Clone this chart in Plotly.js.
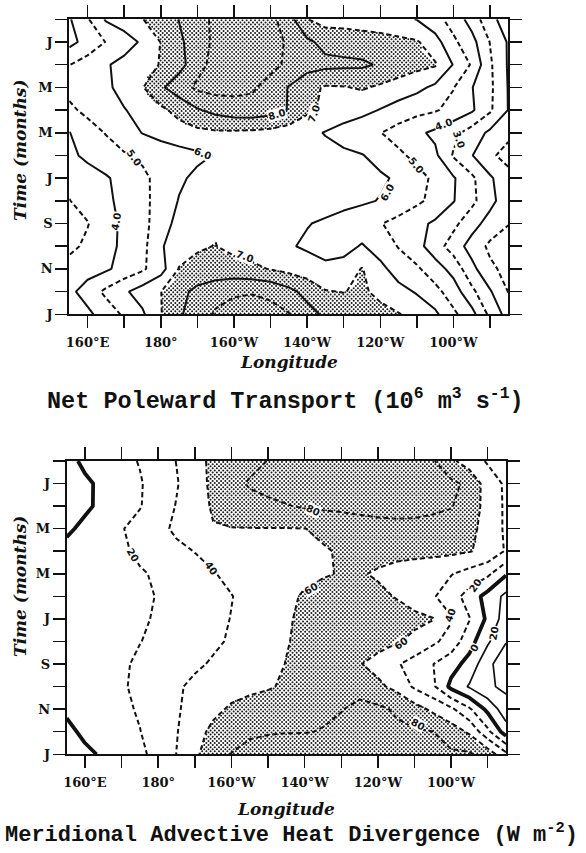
<!DOCTYPE html>
<html><head><meta charset="utf-8">
<script src="https://cdn.plot.ly/plotly-3.0.1.min.js"></script>
<style>html,body{margin:0;padding:0;background:#fff}#chart{width:586px;height:853px}</style>
</head><body><div id="chart"></div>
<script>
// Longitude (degrees east) and time (month index: 0 = Dec, 1 = Jan ... 13 = Jan)
const lon = [155,160,165,170,175,180,185,190,195,200,205,210,215,220,225,230,235,240,245,250,255,260,265,270,275];
const months = [0,1,2,3,4,5,6,7,8,9,10,11,12,13];
const monthTicks = [1,3,5,7,9,11,13];
const monthLabels = ['J','M','M','J','S','N','J'];
const monthMinor = [0,2,4,6,8,10,12];
const lonTicks = [160,180,200,220,240,260];
const lonLabels = ['160°E','180°','160°W','140°W','120°W','100°W'];
const lonMinor = [170,190,210,230,250,270];

// Net poleward transport (10^6 m^3 s^-1), rows = months, cols = lon
const transport = [
 [3.9,4.9,6.1,6.5,6.97,7.5,8.03,8.65,9.2,9.5,9.5,9.3,8.4,7.03,6.6,6.6,6.5,6.4,6.2,5.97,5.35,4.6,3.6,2.3,1.5],
 [3.7,4.35,5.03,5.55,6.15,7.03,7.8,8.55,9.2,9.6,9.6,9.4,8.85,8.2,7.7,7.6,7.5,7.4,7.25,7.1,6.4,5.2,4.35,2.97,1.9],
 [4.97,5.45,5.9,6.3,6.65,7.05,7.65,8.6,9.4,9.7,9.6,9.3,8.8,8.4,8.25,8.2,8.15,7.9,7.6,7.3,7.1,5.95,4.9,3.15,1.9],
 [5.3,5.55,5.8,6.35,6.95,7.85,8.55,9.2,9.35,9.3,9.15,8.6,7.95,7.3,6.9,6.95,7.1,6.85,6.55,6.25,5.8,5.05,4.05,3.2,1.95],
 [4.8,5.25,5.6,5.95,6.35,6.8,7.3,7.9,8.3,8.55,8.6,8.4,7.95,7.2,6.8,6.55,6.3,5.95,5.6,5.3,5.1,4.65,4.15,3.15,1.97],
 [3.97,4.55,5.05,5.55,6.03,6.35,6.6,6.75,6.85,6.85,6.8,6.7,6.5,6.25,5.95,5.6,5.3,5.03,4.6,4.2,3.8,3.3,2.55,1.8,1.2],
 [3.8,4.2,4.55,4.9,5.17,5.39,5.6,5.82,6.05,6.3,6.45,6.5,6.5,6.4,6.3,6.2,6.05,5.65,5.2,4.73,4.2,2.9,2.05,1.15,0.7],
 [3.3,3.6,3.9,4.32,4.8,5.3,5.85,6.2,6.4,6.55,6.65,6.7,6.7,6.65,6.55,6.45,6.3,6.15,5.85,5.35,4.8,4.1,3.2,2.15,1.3],
 [2.97,3.41,3.8,4.28,4.75,5.36,6.05,6.4,6.6,6.7,6.75,6.75,6.7,6.6,6.45,6.3,6.15,5.95,5.6,5.2,4.7,4.05,3.25,2.3,1.4],
 [2.6,2.95,3.6,4.22,4.7,5.5,6.35,6.8,6.9,6.8,6.6,6.4,6.25,6.05,5.85,5.6,5.35,5.05,4.7,4.25,3.85,3.25,2.4,1.6,1.05],
 [2.75,3.2,3.7,4.2,4.7,5.9,6.5,6.92,7.02,6.75,6.55,6.4,6.1,5.85,5.5,5.6,6.1,5.5,4.95,4.35,3.45,2.55,1.6,0.8,0.4],
 [3.4,3.6,3.85,4.35,4.85,5.6,7.05,7.2,7.3,7.35,7.2,6.95,6.7,6.5,6.3,6.45,7.05,6.3,5.5,5.15,4.45,3.65,2.3,1.2,0.7],
 [3.75,4.44,5.21,5.85,6.43,6.98,7.65,8.3,8.7,8.9,8.95,8.8,8.3,7.65,7.05,6.97,7.15,6.75,6.35,5.9,5.3,4.5,3.25,2.1,0.97],
 [3.3,3.78,4.47,5.14,5.85,6.95,7.85,8.55,9.1,9.3,9.35,9.3,9.05,8.4,7.8,7.6,7.45,7.3,7.05,6.7,6.2,5.2,4.35,2.75,1.6]
];

// Meridional advective heat divergence (W m^-2)
const heatDiv = [
 [-8,5,11,15,21,30,40.5,56,62.5,68,74,80.5,82,83,84,84,84,84,84,83.5,82,64,50,38,34],
 [-12,-4,5,12,18.5,28,38.5,52,64,74,82,86,88,89,90,90,90,89,88,87,86,84,76,50,37],
 [-12,-3,4,11,19,29,41,52,62,68,73,76,79,82,84,85,85,85,85,84.5,83,81,72,52,37],
 [-3,4,10,19,26,34,44,52,59,59.5,59.5,59.5,59.5,59.8,62,66,72,75,76,76,75,72,66,52,37],
 [5,10,14,17.5,23,29,35,40.5,45,49,52,54,56,57.5,59,61,64,66,67,67,66,64,61,55,38],
 [8,11,14,16,18.5,22,28,33,39,44,48,51,54,56,58.5,61,61.5,58,52,47,44,41,33,24,2],
 [10,12,14,16,18,20.5,25,30,34.5,39.5,45,50,56,62,66,68,67,64,59,51,42,30,11,-7,-25],
 [9,11,13,15,17.5,22,26,31,35.5,40.5,46,52,58,63.5,67,69,70,69.5,68,65,61,42,21,-4,-30],
 [7,9,12,15,19.5,24.5,28.5,32.5,37,42,47,53,59,64,67,68,67.5,66,62,55,44,32,8,-17,-39],
 [5,8,11,17,23.5,28,32.5,37,42,46,50.5,55,60.5,64,65,64,61,54,42.5,32,20.5,8,-7,-35,-52],
 [3,7,11,18.5,23,29,37.5,44,48,52,55,58,63,68,72,75,76,64,55,37,24,-5,-22,-37,-44],
 [4,8,12,16,22,28,38.5,45,55,63,68,71,74,76,78,79.5,83,84,77.5,68,56,44,23,-5,-32],
 [-6,5,10,14,19.5,29,39,52,65,73,78,79,79.5,79.5,80.5,83,85,85,84,82,80.3,70,57,25,-10],
 [-12,-5,3,11,17.5,24,40.3,57,69,80.5,84,86,87,88,88,88,88,88,87,86,85,83,82.5,72,45]
];

const topLabels = [
 {x:172.6,y:6.1,t:'5.0',a:55},{x:191.5,y:5.9,t:'6.0',a:20},{x:167.8,y:8.9,t:'4.0',a:-80},
 {x:211.7,y:4.2,t:'8.0',a:-15},{x:221.9,y:4.15,t:'7.0',a:-70},{x:203,y:10.45,t:'7.0',a:20},
 {x:242,y:7.65,t:'6.0',a:-60},{x:249.8,y:6.45,t:'5.0',a:50},{x:257.3,y:4.65,t:'4.0',a:-20},
 {x:261.5,y:5.3,t:'3.0',a:70}
];
const botLabels = [
 {x:173.2,y:4.17,t:'20',a:60},{x:194.5,y:4.77,t:'40',a:55},{x:222.4,y:2.2,t:'80',a:25},
 {x:221.8,y:5.65,t:'60',a:-30},{x:246.3,y:8.08,t:'60',a:-35},{x:259.7,y:6.83,t:'40',a:-70},
 {x:266.6,y:5.5,t:'20',a:-55},{x:266.3,y:8.3,t:'0',a:-60},{x:271.7,y:7.64,t:'20',a:-80},
 {x:251,y:11.67,t:'80',a:30}
];

const INK = '#111';
const DASH = '5px,3px';

function bilinear(z, x, y) {
  const dxg = lon[1]-lon[0], dyg = months[1]-months[0];
  let i = Math.floor((x-lon[0])/dxg); i = Math.max(0, Math.min(i, lon.length-2));
  let j = Math.floor((y-months[0])/dyg); j = Math.max(0, Math.min(j, months.length-2));
  const tx = (x-lon[i])/dxg, ty = (y-months[j])/dyg;
  return (1-tx)*(1-ty)*z[j][i] + tx*(1-ty)*z[j][i+1] + (1-tx)*ty*z[j+1][i] + tx*ty*z[j+1][i+1];
}

// dot texture for the shaded (above-threshold) region
function stipple(z, thr, xa, ya) {
  const xs = [], ys = [];
  const dx = 4.2/3.66, dy = 2.1/22.6;
  let r = 0;
  for (let m = dy/2; m < 13; m += dy, r++) {
    const off = (r % 2) ? dx/2 : 0;
    for (let x = lon[0] + dx/4 + off; x < lon[lon.length-1]; x += dx) {
      if (bilinear(z, x, m) > thr) { xs.push(x); ys.push(m); }
    }
  }
  return {type:'scatter', mode:'markers', x:xs, y:ys, xaxis:xa, yaxis:ya,
    marker:{size:2.0, color:'#1a1a1a', line:{width:0}}, hoverinfo:'skip', showlegend:false};
}

function lines(z, xa, ya, start, end, size, width, dash) {
  return {type:'contour', x:lon, y:months, z:z, xaxis:xa, yaxis:ya,
    autocontour:false, contours:{start:start, end:end, size:size, coloring:'none', showlines:true},
    line:{color:INK, width:width, dash:dash, smoothing:0},
    showscale:false, hoverinfo:'skip', showlegend:false};
}

const data = [
  stipple(transport, 7, 'x', 'y'),
  lines(transport, 'x', 'y', 2, 8, 2, 2, 'solid'),
  lines(transport, 'x', 'y', 1, 9, 2, 2, DASH),
  stipple(heatDiv, 60, 'x2', 'y2'),
  lines(heatDiv, 'x2', 'y2', -40, -20, 20, 1.7, 'solid'),
  lines(heatDiv, 'x2', 'y2', 0, 0.5, 1, 3.8, 'solid'),
  lines(heatDiv, 'x2', 'y2', 20, 80, 20, 2, DASH)
];

const tickFont = {family:'DejaVu Serif', size:13, color:INK, weight:'bold'};
const minorStyle = {ticks:'outside', ticklen:12, tickwidth:1.5, tickcolor:INK, showgrid:false};
function xAxis(domain, anchor) {
  return {domain:domain, anchor:anchor, range:[155,275], autorange:false,
    tickmode:'array', tickvals:lonTicks, ticktext:lonLabels,
    minor:Object.assign({tickmode:'array', tickvals:lonMinor}, minorStyle),
    ticks:'outside', ticklen:12, tickwidth:1.5, tickcolor:INK,
    showline:true, linewidth:2, linecolor:INK, mirror:'ticks',
    showgrid:false, zeroline:false, tickfont:tickFont, ticklabelstandoff:3, automargin:false, fixedrange:true};
}
function yAxis(domain, anchor) {
  return {domain:domain, anchor:anchor, range:[13,0], autorange:false,
    tickmode:'array', tickvals:monthTicks, ticktext:monthLabels,
    minor:Object.assign({tickmode:'array', tickvals:monthMinor}, minorStyle),
    ticks:'outside', ticklen:12, tickwidth:1.5, tickcolor:INK,
    showline:true, linewidth:2, linecolor:INK, mirror:'ticks',
    showgrid:false, zeroline:false, tickfont:tickFont, ticklabelstandoff:0, automargin:false, fixedrange:true};
}

const ann = [];
function addLabels(list, xr, yr) {
  list.forEach(l => ann.push({x:l.x, y:l.y, xref:xr, yref:yr, text:'<b>'+l.t+'</b>', showarrow:false,
    textangle:l.a, font:{family:'DejaVu Sans', size:10, color:INK}, bgcolor:'#fff', borderpad:0}));
}
addLabels(topLabels, 'x', 'y');
addLabels(botLabels, 'x2', 'y2');

const axTitleFont = {family:'DejaVu Serif', size:17, color:INK};
ann.push({xref:'paper', yref:'paper', x:0.488, y:0.5311, xanchor:'center', yanchor:'middle', showarrow:false,
  text:'<b>Net Poleward Transport (10<sup>6</sup> m<sup>3</sup> s<sup>-1</sup>)</b>',
  font:{family:'Liberation Mono', size:23.5, color:INK}});
ann.push({xref:'paper', yref:'paper', x:0.4966, y:0.004, xanchor:'center', yanchor:'bottom', showarrow:false,
  text:'<b>Meridional Advective Heat Divergence (W m<sup>-2</sup>)</b>',
  font:{family:'Liberation Mono', size:22, color:INK}});
ann.push({xref:'paper', yref:'paper', x:0.4928, y:0.5756, xanchor:'center', yanchor:'middle', showarrow:false,
  text:'<b><i>Longitude</i></b>', font:axTitleFont});
ann.push({xref:'paper', yref:'paper', x:0.4887, y:0.0516, xanchor:'center', yanchor:'middle', showarrow:false,
  text:'<b><i>Longitude</i></b>', font:axTitleFont});
ann.push({xref:'paper', yref:'paper', x:0.0341, y:0.8242, xanchor:'center', yanchor:'middle', showarrow:false,
  textangle:-90, text:'<b><i>Time (months)</i></b>', font:axTitleFont});
ann.push({xref:'paper', yref:'paper', x:0.0341, y:0.3130, xanchor:'center', yanchor:'middle', showarrow:false,
  textangle:-90, text:'<b><i>Time (months)</i></b>', font:axTitleFont});

const layout = {
  width:586, height:853, margin:{l:0, r:0, t:0, b:0},
  paper_bgcolor:'#fff', plot_bgcolor:'#fff', showlegend:false, hovermode:false,
  xaxis: xAxis([0.11826, 0.86741], 'y'),
  yaxis: yAxis([0.63154, 0.97737], 'x'),
  xaxis2: xAxis([0.11382, 0.86348], 'y2'),
  yaxis2: yAxis([0.11571, 0.45956], 'x2'),
  annotations: ann
};

Plotly.newPlot('chart', data, layout, {staticPlot:true, displayModeBar:false});
</script>
</body></html>
